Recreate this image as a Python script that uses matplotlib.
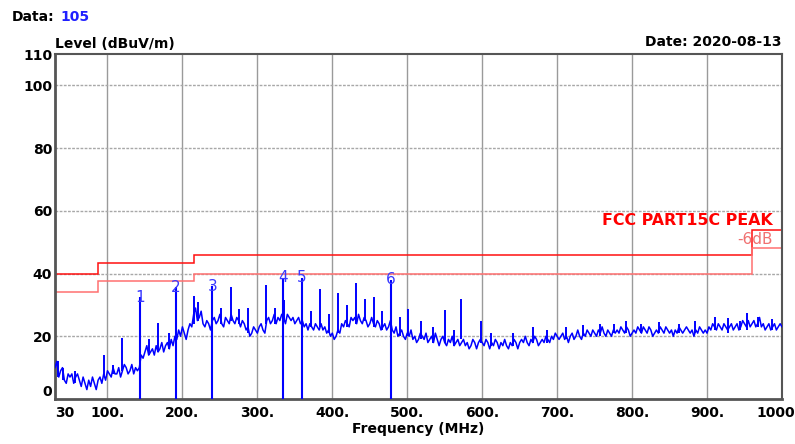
import numpy as np
import matplotlib
matplotlib.use('Agg')
import matplotlib.pyplot as plt

plt.rcParams['font.family'] = ['DejaVu Sans']

# ---------------- data ----------------
freq_start, freq_stop, freq_step = 30, 1000, 2.5
# level readings every 2.5 MHz, one row per 50 MHz
level = [
    10, 12, 7, 9, 10, 6, 5, 8, 7, 8, 5, 7, 8, 6, 4, 7, 5, 3, 6, 4,                    # 30-77.5
    7, 5, 3, 6, 7, 5, 8, 6, 9, 8, 7, 10, 8, 8, 10, 7, 9, 11, 10, 8,                   # 80-127.5
    9, 11, 8, 10, 9, 10, 14, 13, 15, 17, 14, 15, 16, 14, 17, 15, 16, 18, 15, 17,      # 130-177.5
    18, 16, 19, 17, 20, 19, 22, 20, 23, 21, 19, 22, 24, 23, 27, 29, 25, 26, 28, 24,   # 180-227.5
    23, 25, 24, 22, 25, 26, 24, 25, 27, 24, 23, 26, 25, 24, 27, 25, 24, 26, 25, 23,   # 230-277.5
    25, 24, 22, 23, 20, 21, 23, 22, 21, 23, 24, 22, 21, 25, 26, 24, 25, 27, 24, 26,   # 280-327.5
    25, 27, 26, 24, 27, 26, 25, 26, 24, 25, 26, 24, 25, 23, 24, 22, 24, 23, 22, 24,   # 330-377.5
    23, 22, 24, 22, 23, 21, 22, 20, 21, 19, 20, 22, 21, 24, 23, 25, 24, 23, 26, 25,   # 380-427.5
    26, 24, 27, 25, 24, 26, 25, 23, 24, 26, 24, 23, 25, 24, 22, 23, 24, 22, 23, 25,   # 430-477.5
    22, 21, 23, 20, 21, 22, 20, 19, 21, 20, 22, 19, 20, 18, 19, 21, 20, 19, 21, 18,   # 480-527.5
    19, 20, 18, 21, 19, 17, 19, 20, 18, 17, 19, 18, 20, 17, 18, 19, 17, 18, 19, 17,   # 530-577.5
    18, 16, 17, 19, 18, 16, 18, 19, 18, 17, 19, 18, 16, 18, 17, 19, 18, 16, 18, 17,   # 580-627.5
    19, 17, 16, 18, 17, 19, 18, 16, 18, 19, 18, 20, 18, 17, 19, 18, 20, 19, 17, 18,   # 630-677.5
    19, 18, 20, 19, 18, 20, 19, 21, 20, 19, 20, 21, 19, 20, 18, 20, 21, 19, 20, 22,   # 680-727.5
    20, 19, 21, 20, 22, 21, 20, 22, 21, 20, 22, 21, 23, 21, 20, 22, 21, 20, 22, 21,   # 730-777.5
    22, 21, 23, 22, 21, 23, 22, 20, 21, 22, 21, 23, 22, 21, 23, 22, 21, 23, 22, 20,   # 780-827.5
    21, 22, 21, 23, 22, 21, 23, 22, 21, 22, 20, 22, 21, 23, 22, 21, 22, 23, 22, 21,   # 830-877.5
    22, 20, 22, 21, 23, 22, 21, 22, 21, 23, 22, 24, 23, 22, 24, 23, 22, 24, 23, 22,   # 880-927.5
    23, 24, 22, 23, 24, 22, 23, 25, 24, 23, 25, 23, 24, 25, 23, 24, 26, 23, 24, 22,   # 930-977.5
    23, 24, 22, 23, 24, 22, 23, 24, 23,                                               # 980-1000
]

spike_freqs = [34, 41, 57, 95, 108, 119, 143.5, 156, 167, 182, 191, 215, 221, 240,
               252, 264.6, 276, 288, 311, 324, 335, 359, 371, 383, 396, 407, 419,
               432, 443, 455, 466, 477.7, 490, 501, 518, 534, 551, 562, 572, 599,
               612, 641, 668, 687, 712, 735, 757, 776, 792, 812, 836, 862, 884,
               911, 928, 944, 953, 968, 986]
spike_lows = [7, 6, 5, 7, 8, 9, 10, 14, 15, 16, 18, 24, 25, 24,
              24, 25, 24, 21, 24, 24, 25, 24, 23, 23, 21, 21, 23,
              24, 25, 23, 22, 23, 20, 20, 19, 18, 18, 17, 19, 18,
              17, 17, 18, 18, 19, 20, 20, 21, 21, 21, 21, 21, 21,
              22, 21, 22, 22, 23, 22]
spike_tops = [12, 10, 9, 14, 11, 19.5, 28, 19, 24.3, 21, 34, 33, 31, 31,
              29, 35.8, 28.7, 29, 36.5, 29, 31.6, 31.5, 28, 35, 27, 33.8, 30,
              37, 32, 32.5, 28, 34.7, 26, 28.7, 25, 23, 28.4, 22, 32, 25,
              21, 21, 23, 22, 23, 23.5, 24, 24, 24.9, 24, 24.5, 24, 25,
              26, 25.8, 25, 27.5, 26, 25.5]

marker_ids = ['1', '2', '3', '4', '5', '6']
marker_freqs = [143.5, 191, 240, 334.7, 359, 477.7]
marker_levels = [32.5, 35.7, 36.0, 38.6, 38.6, 38.0]

limit_edges = [30, 88, 216, 960, 1000]
limit_levels = [40, 43.5, 46, 54]
margin_levels = [34, 37.5, 40, 48]

x_ticks = [30, 100, 200, 300, 400, 500, 600, 700, 800, 900, 1000]
x_tick_labels = ['30', '100.', '200.', '300.', '400.', '500.', '600.', '700.',
                 '800.', '900.', '1000']
y_ticks = [0, 20, 40, 60, 80, 100, 110]
y_tick_labels = ['0', '20', '40', '60', '80', '100', '110']

# ---------------- figure ----------------
W, H = 795, 444
fig = plt.figure(figsize=(W / 100, H / 100), dpi=100)
fig.patch.set_facecolor('white')
ax = fig.add_axes([55 / W, 1 - 399 / H, (782 - 55) / W, (399 - 54) / H])
ax.set_facecolor('white')

freqs = np.arange(freq_start, freq_stop + 0.1, freq_step)

ax.set_xlim(30, 1000)
ax.set_ylim(0, 110)

# grid
for xv in x_ticks[1:-1]:
    ax.axvline(xv, color='#9a9a9a', lw=1.0, zorder=1)
for yv in y_ticks[1:-1]:
    ax.axhline(yv, color='#a8a8a8', lw=1.0, ls=(0, (2, 1)), zorder=1)

# limit lines
ax.stairs(limit_levels, limit_edges, baseline=None, color='#ff1010', lw=1.1, zorder=2)
ax.stairs(margin_levels, limit_edges, baseline=None, color='#ff7070', lw=1.1, zorder=2)

# trace
ax.plot(freqs, level, color='#0000ff', lw=1.1, zorder=3)
ax.vlines(spike_freqs, spike_lows, spike_tops, color='#0000ff', lw=1.4, zorder=3)

# markers
ax.vlines(marker_freqs, 0, marker_levels, color='#0000ff', lw=1.5, zorder=4)
for mid, mf, ml in zip(marker_ids, marker_freqs, marker_levels):
    ax.text(mf, ml, mid, color='#3a3aff', fontsize=11, ha='center', va='center', zorder=5)

# limit texts
ax.text(988, 56.9, 'FCC PART15C PEAK', color='#ff0000', fontsize=11.4,
        fontweight='bold', ha='right', va='center', zorder=5)
ax.text(988, 51, '-6dB', color='#f07070', fontsize=11, ha='right', va='center', zorder=5)

# axes styling
for s in ax.spines.values():
    s.set_color('#555555')
    s.set_linewidth(1.5)
ax.spines['left'].set_linewidth(2)
ax.spines['bottom'].set_linewidth(2)

ax.set_yticks(y_ticks, y_tick_labels)
ax.tick_params(axis='y', length=0, pad=2, labelsize=10)
for lbl in ax.get_yticklabels():
    lbl.set_fontweight('bold')
ax.get_yticklabels()[0].set_verticalalignment('bottom')

ax.set_xticks(x_ticks, [''] * len(x_ticks))
ax.tick_params(axis='x', length=0)
for i, (xv, lab) in enumerate(zip(x_ticks, x_tick_labels)):
    if i == 0:
        ha, dx = 'left', 0
    elif i == len(x_ticks) - 1:
        ha, dx = 'right', 13
    else:
        ha, dx = 'center', 0
    ax.annotate(lab, xy=(xv, H - 416.7), xycoords=('data', 'figure pixels'),
                xytext=(dx, 0), textcoords='offset pixels', ha=ha, va='baseline',
                fontsize=10, fontweight='bold', annotation_clip=False)

# header / labels
fig.text(11.7 / W, 1 - 20.7 / H, 'Data:', fontsize=10, fontweight='bold', va='baseline')
fig.text(60 / W, 1 - 20.7 / H, '105', fontsize=10, fontweight='bold', va='baseline', color='#2020ff')
fig.text(55 / W, 1 - 48 / H, 'Level (dBuV/m)', fontsize=10, fontweight='bold', va='baseline')
fig.text(781.7 / W, 1 - 46 / H, 'Date: 2020-08-13', fontsize=10, fontweight='bold', va='baseline', ha='right')
fig.text(418.5 / W, 1 - 433 / H, 'Frequency (MHz)', fontsize=10, fontweight='bold', va='baseline', ha='center')

fig.savefig('out.png', dpi=100, facecolor='white')
